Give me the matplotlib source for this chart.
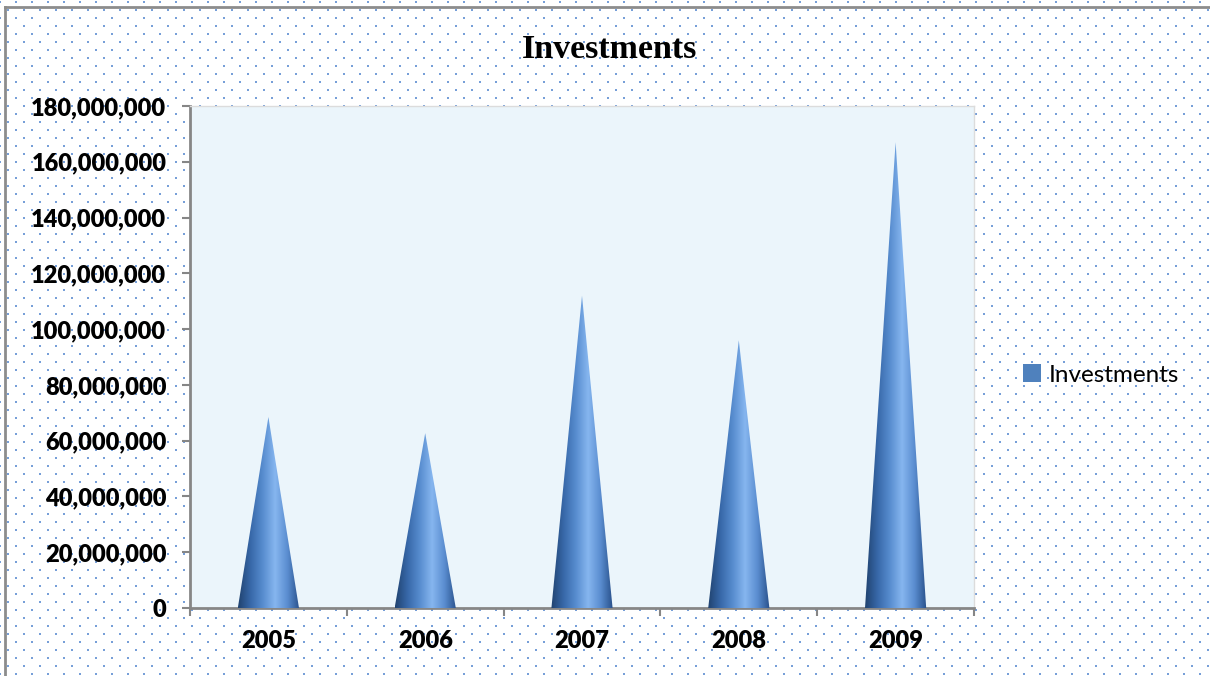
import numpy as np
import matplotlib.pyplot as plt
from matplotlib.patches import Polygon, Patch
from matplotlib.colors import LinearSegmentedColormap
from matplotlib.ticker import FuncFormatter, MultipleLocator

years = ["2005", "2006", "2007", "2008", "2009"]
investments = [68500000, 62700000, 112000000, 96000000, 167000000]

W, H = 1210, 676
fig = plt.figure(figsize=(W / 100, H / 100), dpi=100)

# dotted backdrop and outer frame
bg = fig.add_axes([0, 0, 1, 1])
bg.set_xlim(0, W)
bg.set_ylim(H, 0)
bg.axis("off")
dx, dy = [], []
for j, yy in enumerate(range(2, H, 8)):
    off = 0 if j % 2 == 0 else 8
    for xx in range(off, W, 16):
        dx.append(xx)
        dy.append(yy)
bg.scatter(dx, dy, s=3.2, marker="s", color="#779fd8", linewidths=0)
bg.plot([5, W], [7, 7], color="#8c8c8c", lw=2)
bg.plot([5, 5], [7, H], color="#8c8c8c", lw=2)

ax = fig.add_axes([190 / W, 68 / H, 784 / W, 502 / H])
ax.set_facecolor("#ebf5fb")

# cone shading: dark edges, bright band right of centre
cone = LinearSegmentedColormap.from_list(
    "cone", ["#20426f", "#3767a8", "#578ccf", "#86b6ef", "#5a8dd0", "#28508a"])
grad = np.linspace(0, 1, 256).reshape(1, -1)
half = 0.195
for i, v in enumerate(investments):
    c = i + 0.5
    tri = Polygon([(c - half, 0), (c, v), (c + half, 0)], closed=True,
                  facecolor="none", edgecolor="none")
    ax.add_patch(tri)
    im = ax.imshow(grad, cmap=cone, aspect="auto",
                   extent=[c - half, c + half, 0, v], zorder=3)
    im.set_clip_path(tri)

ax.set_xlim(0, len(years))
ax.set_ylim(0, 180000000)

ax.yaxis.set_major_locator(MultipleLocator(20000000))
ax.yaxis.set_major_formatter(FuncFormatter(lambda v, p: f"{int(v):,}"))
ax.set_xticks(np.arange(len(years) + 1))
ax.set_xticklabels([])
ax.set_xticks(np.arange(len(years)) + 0.5, minor=True)
ax.set_xticklabels(years, minor=True)
ax.tick_params(axis="x", which="minor", length=0, pad=16)
ax.tick_params(axis="x", which="major", length=6, width=1.5, color="#868686")
ax.tick_params(axis="y", length=6, width=1.5, color="#868686", pad=11)
for lab in ax.get_yticklabels() + ax.get_xticklabels(minor=True):
    lab.set_fontfamily("Lato")
    lab.set_fontweight("heavy")
    lab.set_fontsize(17)

for side in ["left", "bottom"]:
    ax.spines[side].set_color("#868686")
    ax.spines[side].set_linewidth(2)
for side in ["top", "right"]:
    ax.spines[side].set_color("#dcdcdc")
    ax.spines[side].set_linewidth(1)

fig.text(610 / W, 1 - 50 / H, "Investments", ha="center", va="center",
         fontfamily="Liberation Serif", fontweight="bold", fontsize=24.5)

fig.legend(handles=[Patch(facecolor="#4f81bd", label="Investments")],
           loc="center left", bbox_to_anchor=(1001 / W, 1 - 375 / H),
           frameon=False, handlelength=0.75, handleheight=0.75,
           handletextpad=0.3, prop={"family": "Lato", "size": 17.5})

fig.savefig("out.png", dpi=100)
